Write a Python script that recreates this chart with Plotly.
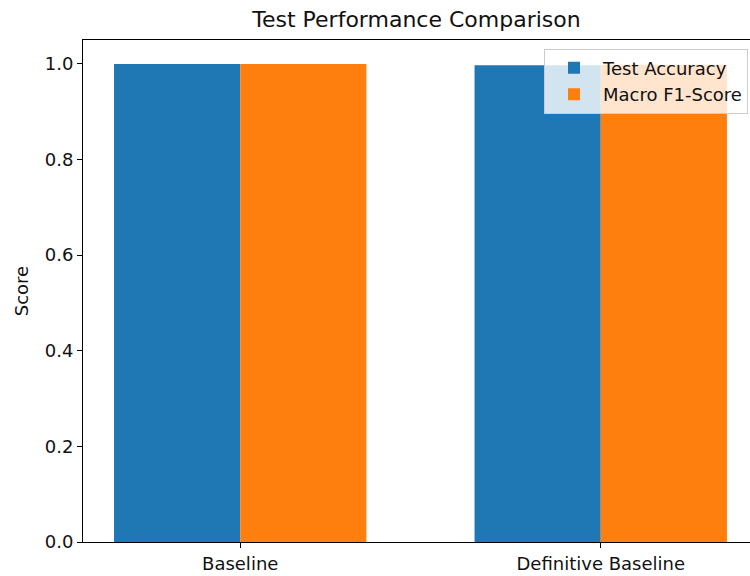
import plotly.graph_objects as go

categories = ["Baseline", "Definitive Baseline"]
test_accuracy = [1.0, 0.997]
macro_f1 = [1.0, 0.998]

font = "DejaVu Sans"
fig = go.Figure()
fig.add_trace(go.Bar(x=categories, y=test_accuracy, name="Test Accuracy",
                     marker=dict(color="#1f77b4", line=dict(width=0))))
fig.add_trace(go.Bar(x=categories, y=macro_f1, name="Macro F1-Score",
                     marker=dict(color="#ff7f0e", line=dict(width=0))))

fig.update_layout(
    width=750, height=576,
    margin=dict(l=83, r=0, t=40, b=34, pad=0),
    paper_bgcolor="white", plot_bgcolor="white",
    barmode="group", bargap=0.3, bargroupgap=0,
    font=dict(family=font, size=18, color="#111"),
    title=dict(text="Test Performance Comparison", x=0.5, xanchor="center",
               xref="paper", y=1 - 19 / 576, yanchor="middle",
               font=dict(size=22, color="#111")),
    xaxis=dict(range=[-0.436, 1.414], showline=True, linecolor="black", linewidth=1,
               mirror=True, ticks="outside", ticklen=5, tickcolor="black",
               showgrid=False, zeroline=False, tickfont=dict(size=18, color="#111")),
    yaxis=dict(range=[0, 1.05], showline=True, linecolor="black", linewidth=1,
               ticks="outside", ticklen=5, tickcolor="black", tickvals=[0, 0.2, 0.4, 0.6, 0.8, 1.0],
               tickformat=".1f", showgrid=False, zeroline=False,
               title=dict(text="Score", font=dict(size=18, color="#111"), standoff=11),
               tickfont=dict(size=18, color="#111")),
    legend=dict(x=0.997, xanchor="right", y=0.983, yanchor="top", itemwidth=48,
                bgcolor="rgba(255,255,255,0.8)", bordercolor="#cccccc", borderwidth=1,
                font=dict(size=18, color="#111"), tracegroupgap=0),
)
fig.write_html("out.html", config={"displayModeBar": False},
               post_script="document.body.style.margin='0';")
